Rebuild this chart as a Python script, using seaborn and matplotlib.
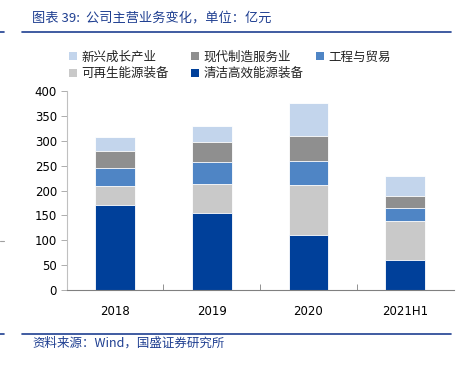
import matplotlib
matplotlib.use("Agg")
import matplotlib.pyplot as plt
import seaborn as sns
import numpy as np
import pandas as pd
from matplotlib.patches import Patch

years = ["2018", "2019", "2020", "2021H1"]
clean = [170, 154, 110, 60]          # 清洁高效能源装备
renew = [40, 59, 101, 79]            # 可再生能源装备
engin = [35, 45, 49, 26]             # 工程与贸易
manuf = [34, 39, 50, 24]             # 现代制造服务业
emerg = [29, 33, 65, 40]             # 新兴成长产业

names = ["清洁高效能源装备", "可再生能源装备", "工程与贸易", "现代制造服务业", "新兴成长产业"]
series = [clean, renew, engin, manuf, emerg]
colors = ["#00409A", "#C9C9C9", "#4F85C5", "#8F8F8F", "#C3D5EC"]

sns.set_theme(style="white")
plt.rcParams['font.family'] = ['Noto Sans CJK SC', 'DejaVu Sans']

fig = plt.figure(figsize=(4.6, 3.7), dpi=100)
ax = fig.add_axes([0.145, 0.216, 0.841, 0.538])

cum = np.cumsum(np.array(series), axis=0)
for i in range(len(series) - 1, -1, -1):
    df = pd.DataFrame({"year": years, "v": cum[i]})
    sns.barplot(data=df, x="year", y="v", color=colors[i], width=0.41,
                saturation=1, edgecolor="white", linewidth=0.6, ax=ax, zorder=2)

ax.set_xlim(-0.5, 3.5)
ax.set_ylim(0, 400)
ax.set_yticks(range(0, 401, 50))
ax.set_yticklabels([str(v) for v in range(0, 401, 50)], family="DejaVu Sans")
ax.set_xticks(range(len(years)))
ax.set_xticklabels(years, family="DejaVu Sans")
ax.set_xlabel("")
ax.set_ylabel("")
for s in ["top", "right"]:
    ax.spines[s].set_visible(False)
ax.spines["left"].set_color("#C0C0C0")
ax.spines["bottom"].set_color("#808080")
ax.spines["left"].set_linewidth(0.8)
ax.spines["bottom"].set_linewidth(0.8)
ax.tick_params(axis="y", which="major", left=True, length=4, width=0.6, color="#A0A0A0",
               labelsize=8.5, labelcolor="#000000", pad=3)
ax.tick_params(axis="x", which="major", bottom=False, labelsize=8.5, labelcolor="#000000", pad=5)
ax.set_xticks([0.5, 1.5, 2.5], minor=True)
ax.tick_params(axis="x", which="minor", bottom=True, direction="in", length=4, width=0.6, color="#808080")

handles_all = [Patch(facecolor=c, edgecolor="none") for c in colors]
# legend columns placed like the original: (新兴, 可再生) / (现代, 清洁) / (工程)
columns = [([4, 1], 68), ([3, 0], 190), ([2], 315)]
for idx_list, xpx in columns:
    leg = fig.legend([handles_all[i] for i in idx_list], [names[i] for i in idx_list],
                     ncol=1, loc="upper left", bbox_to_anchor=(xpx / 460 - 0.0005, 0.867),
                     frameon=False, fontsize=9, handlelength=0.65, handleheight=0.65,
                     handletextpad=0.35, labelspacing=0.3, borderaxespad=0, borderpad=0.1)
    for t in leg.get_texts():
        t.set_color("#222222")

blue = "#1F3F91"
fig.text(0.07, 0.952, "图表 39:  公司主营业务变化，单位：亿元", color=blue, fontsize=9.5,
         style="italic", va="center", ha="left")
fig.add_artist(plt.Line2D([0.047, 0.98], [0.913, 0.913], color=blue, lw=1.2))
fig.add_artist(plt.Line2D([0.0, 0.008], [0.913, 0.913], color=blue, lw=1.2))
fig.add_artist(plt.Line2D([0.047, 0.98], [0.097, 0.097], color=blue, lw=1.2))
fig.add_artist(plt.Line2D([0.0, 0.008], [0.097, 0.097], color=blue, lw=1.2))
fig.add_artist(plt.Line2D([0.0, 0.008], [0.35, 0.35], color="#A0A0A0", lw=0.8))
fig.text(0.07, 0.072, "资料来源：Wind，国盛证券研究所", color=blue, fontsize=9,
         style="italic", va="center", ha="left")

fig.savefig("out.png", dpi=100)
